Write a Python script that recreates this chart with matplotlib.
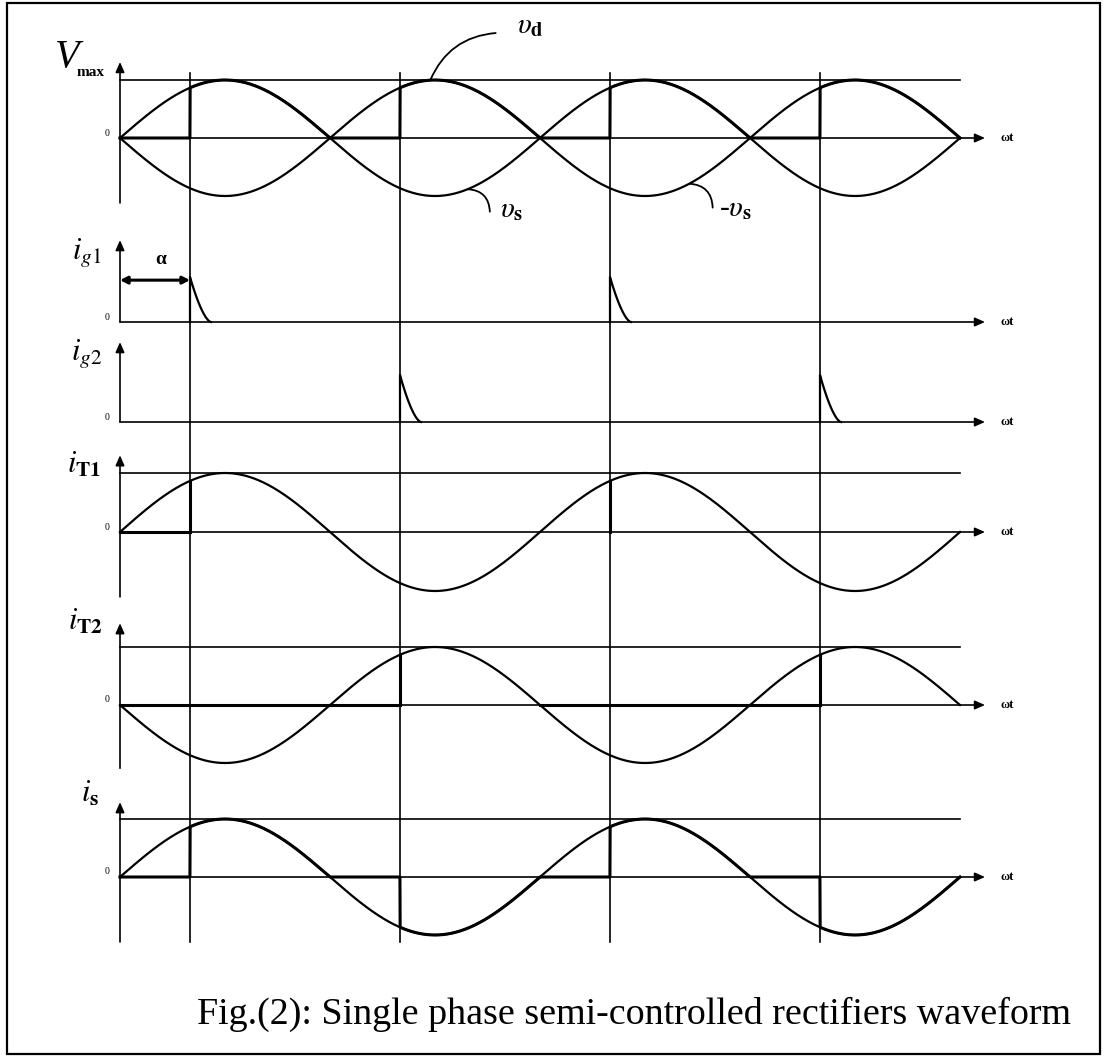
import numpy as np
import matplotlib.pyplot as plt
from matplotlib.patches import Rectangle

plt.rcParams['mathtext.fontset'] = 'stix'
plt.rcParams['font.family'] = ['Liberation Serif', 'DejaVu Serif']

W, H = 1104, 1057

# converter parameters (angles in degrees)
alpha_deg = 60
end_deg = 720
ig1_fire_deg = [60, 420]
ig2_fire_deg = [240, 600]
pulse_width_deg = 18
pulse_amp = 1.0
amp = 1.0

# intervals where the thyristor currents sit on the zero line
iT1_zero_deg = [(0, 60)]
iT1_jump_deg = [60, 420]
iT2_zero_deg = [(0, 240), (360, 600)]
iT2_jump_deg = [240, 600]

left_labels = [r'$i_{\mathit{g1}}$', r'$i_{\mathit{g2}}$', r'$i_{\mathbf{T1}}$',
               r'$i_{\mathbf{T2}}$', r'$i_{\mathbf{s}}$']
caption = 'Fig.(2): Single phase semi-controlled rectifiers waveform'

x0_px = 120.0
px_per_rad = 210.0 / np.pi
TH, CV, AX = 2.2, 1.6, 1.2   # thick, curve and axis line widths

fig = plt.figure(figsize=(W / 100, H / 100), dpi=100)


def fx(x):
    return x / W


def fy(y):
    return 1 - y / H


def panel(y0, scale):
    ax = fig.add_axes([0, 0, 1, 1])
    ax.set_xlim(-x0_px / px_per_rad, (W - x0_px) / px_per_rad)
    ax.set_ylim(-(H - y0) / scale, y0 / scale)
    ax.axis('off')
    ax.patch.set_alpha(0)
    return ax


def frame(ax, y_top, y_bot, scale, max_line=True):
    arrow = dict(arrowstyle='-|>,head_length=0.5,head_width=0.22', lw=AX,
                 color='k', shrinkA=0, shrinkB=0, mutation_scale=12)
    x_end = (985 - x0_px) / px_per_rad
    ax.annotate('', xy=(x_end, 0), xytext=(0, 0), arrowprops=arrow)
    ax.annotate('', xy=(0, y_top), xytext=(0, y_bot), arrowprops=arrow)
    if max_line:
        ax.plot([0, np.deg2rad(end_deg)], [amp, amp], color='k', lw=AX)
    ax.text((1007 - x0_px) / px_per_rad, 0, 'ωt', fontsize=9, fontweight='bold',
            ha='center', va='center')
    ax.text(-13 / px_per_rad, 5 / scale, '0', fontsize=7, ha='center',
            va='center')


theta = np.linspace(0, np.deg2rad(end_deg), 4001)
alpha = np.deg2rad(alpha_deg)
on = np.mod(theta, np.pi) >= alpha
s = amp * np.sin(theta)

# supply and output voltage
ax = panel(138, 58)
frame(ax, 1.31, -1.12, 58)
ax.plot(theta, s, color='k', lw=CV)
ax.plot(theta, -s, color='k', lw=CV)
ax.plot(theta, np.where(on, np.abs(s), 0), color='k', lw=TH)
for k in range(4):
    ax.axvline(alpha + k * np.pi, ymin=1 - 942 / H, ymax=1 - 73 / H,
               color='k', lw=AX)
lead = dict(arrowstyle='-', lw=1.3, color='k', shrinkA=0, shrinkB=0)
t_d = np.deg2rad(266)
ax.annotate('', xy=(t_d, -np.sin(t_d)), xytext=(np.deg2rad(322), 1.81),
            arrowprops=dict(lead, connectionstyle='arc3,rad=0.3'))
ax.text(np.deg2rad(352), 1.93, r'$\upsilon_{\mathbf{d}}$', fontsize=21,
        ha='center', va='center')
t_s = np.deg2rad(298)
ax.annotate('', xy=(t_s, np.sin(t_s)), xytext=(np.deg2rad(317), -1.27),
            arrowprops=dict(lead, connectionstyle='arc3,rad=0.45'))
ax.text(np.deg2rad(336), -1.25, r'$\upsilon_{\mathbf{s}}$', fontsize=21,
        ha='center', va='center')
t_m = np.deg2rad(488)
ax.annotate('', xy=(t_m, -np.sin(t_m)), xytext=(np.deg2rad(508), -1.2),
            arrowprops=dict(lead, connectionstyle='arc3,rad=0.45'))
ax.text(np.deg2rad(528), -1.23, r'-$\upsilon_{\mathbf{s}}$', fontsize=21,
        ha='center', va='center')


def pulses(ax, fires):
    t = np.linspace(0, 1, 60)
    for f in fires:
        xs = np.deg2rad(f + t * pulse_width_deg)
        ys = pulse_amp * (1 - t) ** 1.6
        ax.plot(np.r_[xs[0], xs], np.r_[0, ys], color='k', lw=CV)


# gate currents
ax = panel(322, 45)
frame(ax, 1.82, 0, 45, max_line=False)
pulses(ax, ig1_fire_deg)
ax.annotate('', xy=(alpha, 0.93), xytext=(0, 0.93),
            arrowprops=dict(arrowstyle='<|-|>,head_length=0.35,head_width=0.18',
                            lw=2.2, color='k', shrinkA=0, shrinkB=0,
                            mutation_scale=12))
ax.text(alpha / 2 + 0.08, 1.4, 'α', fontsize=14, fontweight='bold',
        ha='center', va='center')

ax = panel(422, 47)
frame(ax, 1.7, 0, 47, max_line=False)
pulses(ax, ig2_fire_deg)


def thyristor(ax, sign, zeros, jumps):
    ax.plot(theta, sign * s, color='k', lw=CV)
    for a, b in zeros:
        ax.plot(np.deg2rad([a, b]), [0, 0], color='k', lw=TH)
    for j in jumps:
        ax.plot(np.deg2rad([j, j]), [0, sign * amp * np.sin(np.deg2rad(j))],
                color='k', lw=TH)


ax = panel(532, 59)
frame(ax, 1.3, -1.1, 59)
thyristor(ax, 1, iT1_zero_deg, iT1_jump_deg)

ax = panel(705, 58)
frame(ax, 1.41, -1.09, 58)
thyristor(ax, -1, iT2_zero_deg, iT2_jump_deg)

# supply current
ax = panel(877, 58)
frame(ax, 1.29, -1.12, 58)
ax.plot(theta, s, color='k', lw=CV)
ax.plot(theta, np.where(on, s, 0), color='k', lw=TH)

fig.text(fx(67), fy(57), 'V', fontsize=29, style='italic', ha='center',
         va='center')
fig.text(fx(91), fy(73), 'max', fontsize=11, fontweight='bold', ha='center',
         va='center')
for (x, y), lab in zip([(87, 253), (87, 353), (84, 465), (85, 622), (90, 794)],
                       left_labels):
    fig.text(fx(x), fy(y), lab, fontsize=22, ha='center', va='center')

fig.text(fx(197), fy(1014), caption, fontsize=27.4, ha='left', va='center')

fig.patches.append(Rectangle((fx(7), fy(1054)), fx(1100) - fx(7),
                             fy(3) - fy(1054), transform=fig.transFigure,
                             fill=False, lw=1.6, edgecolor='k'))

fig.savefig('out.png', dpi=100, facecolor='white')
